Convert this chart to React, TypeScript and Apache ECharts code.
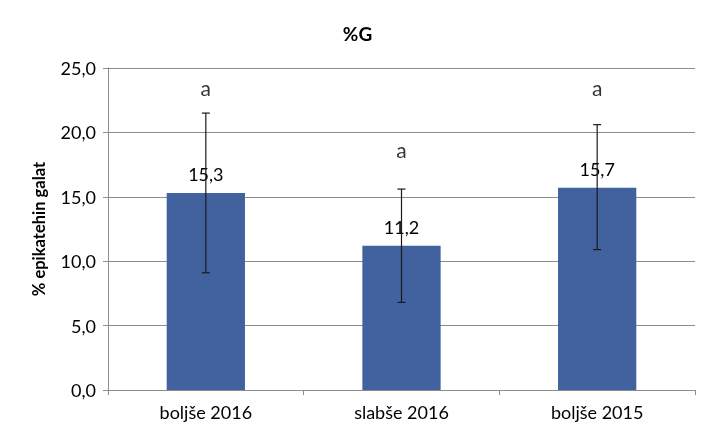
import React, { useEffect, useRef } from "react";
import * as echarts from "echarts";

const categories = ["boljše 2016", "slabše 2016", "boljše 2015"];
const means = [15.3, 11.2, 15.7];
const errLow = [9.1, 6.8, 10.9];
const errHigh = [21.5, 15.6, 20.6];
const letters = ["a", "a", "a"];
const letterPos = [23.5, 18.7, 23.5];
const yTicks = [0, 5, 10, 15, 20, 25];

const FONT = "Lato";
const fmt = (v: number) => v.toFixed(1).replace(".", ",");

export default function App() {
  const ref = useRef<HTMLDivElement>(null);
  useEffect(() => {
    if (!ref.current) return;
    const chart = echarts.init(ref.current, undefined, { renderer: "svg" });
    chart.setOption({
      animation: false,
      textStyle: { fontFamily: FONT },
      title: {
        text: "%G",
        left: "center",
        top: 19,
        textStyle: { fontFamily: FONT, fontSize: 19, fontWeight: "bold", color: "#000" },
      },
      grid: { left: 108, right: 20, top: 68, bottom: 50 },
      xAxis: {
        type: "category",
        data: categories,
        axisLine: { lineStyle: { color: "#8c8c8c" } },
        axisTick: { show: true, length: 5, lineStyle: { color: "#8c8c8c" } },
        axisLabel: { color: "#000", fontSize: 18, margin: 13, fontFamily: FONT },
      },
      yAxis: {
        type: "value",
        min: yTicks[0],
        max: yTicks[yTicks.length - 1],
        interval: 5,
        name: "% epikatehin galat",
        nameLocation: "middle",
        nameGap: 61,
        nameTextStyle: { fontFamily: FONT, fontSize: 16.5, fontWeight: "bold", color: "#000" },
        axisLine: { show: true, lineStyle: { color: "#8c8c8c" } },
        axisTick: { show: true, length: 5, lineStyle: { color: "#8c8c8c" } },
        axisLabel: { color: "#000", fontSize: 18, margin: 12, fontFamily: FONT, formatter: (v: number) => fmt(v) },
        splitLine: { lineStyle: { color: "#8c8c8c" } },
      },
      series: [
        {
          type: "bar",
          data: means,
          barWidth: "40%",
          itemStyle: { color: "#41619f" },
          label: {
            show: true,
            position: "top",
            distance: 10,
            fontSize: 18,
            color: "#000",
            fontFamily: FONT,
            formatter: (p: any) => fmt(p.value),
          },
          z: 2,
        },
        {
          type: "custom",
          data: categories.map((_, i) => [i, errLow[i], errHigh[i]]),
          z: 5,
          renderItem: (params: any, api: any) => {
            const i = api.value(0);
            const lo = api.coord([i, api.value(1)]);
            const hi = api.coord([i, api.value(2)]);
            const w = 4;
            const style = { stroke: "#1a1a1a", lineWidth: 1.2 };
            return {
              type: "group",
              children: [
                { type: "line", shape: { x1: hi[0], y1: hi[1], x2: lo[0], y2: lo[1] }, style },
                { type: "line", shape: { x1: hi[0] - w, y1: hi[1], x2: hi[0] + w, y2: hi[1] }, style },
                { type: "line", shape: { x1: lo[0] - w, y1: lo[1], x2: lo[0] + w, y2: lo[1] }, style },
              ],
            };
          },
        },
        {
          type: "scatter",
          data: letterPos,
          symbolSize: 1,
          itemStyle: { color: "transparent" },
          label: {
            show: true,
            position: "inside",
            fontSize: 21,
            color: "#000",
            fontFamily: FONT,
            formatter: (p: any) => letters[p.dataIndex],
          },
          z: 6,
        },
      ],
    });
    return () => chart.dispose();
  }, []);
  return <div ref={ref} style={{ position: "fixed", left: 0, top: 0, width: 715, height: 440 }} />;
}
